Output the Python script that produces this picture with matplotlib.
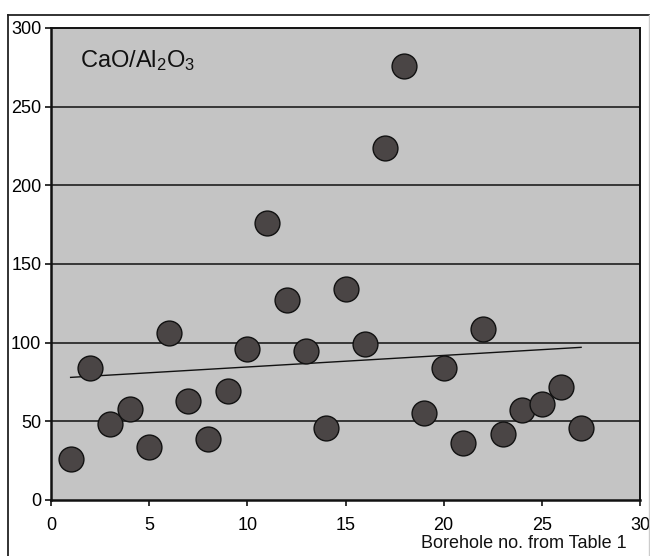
import numpy as np
import matplotlib
matplotlib.use("Agg")
import matplotlib.pyplot as plt
from matplotlib.lines import Line2D

plt.rcParams["font.family"] = ["Liberation Sans", "DejaVu Sans"]
plt.rcParams["mathtext.fontset"] = "custom"
plt.rcParams["mathtext.rm"] = "Liberation Sans"
plt.rcParams["mathtext.default"] = "rm"

# CaO/Al2O3 ratio per borehole
borehole = [1, 2, 3, 4, 5, 6, 7, 8, 9, 10, 11, 12, 13, 14, 15, 16, 17, 18,
            19, 20, 21, 22, 23, 24, 25, 26, 27]
ratio = [26, 84, 48, 58, 34, 106, 63, 39, 69, 96, 176, 127, 95, 46, 134, 99,
         224, 276, 55, 84, 36, 109, 42, 57, 61, 72, 46]

x = np.array(borehole, dtype=float)
y = np.array(ratio, dtype=float)
slope, intercept = np.polyfit(x, y, 1)
trend_x = np.array([x.min(), x.max()])
trend_y = slope * trend_x + intercept

fig = plt.figure(figsize=(6.5, 5.56), dpi=100)
ax = fig.add_axes([51 / 650, 56 / 556, 589 / 650, 472 / 556])
ax.set_facecolor("#c4c4c4")

for gy in [50, 100, 150, 200, 250]:
    ax.axhline(gy, color="#111111", lw=1.1, zorder=1)

ax.plot(trend_x, trend_y, color="#111111", lw=1.0, zorder=2)
ax.scatter(x, y, s=320, color="#4a4545", edgecolor="#111111", lw=1.0, zorder=3)

ax.set_xlim(0, 30)
ax.set_ylim(0, 300)
ax.set_xticks([0, 5, 10, 15, 20, 25, 30])
ax.set_yticks([0, 50, 100, 150, 200, 250, 300])
ax.tick_params(axis="both", direction="out", length=4, width=1.2,
               labelsize=13, color="#111111")
ax.tick_params(axis="y", pad=3)
ax.tick_params(axis="x", pad=8)

for side in ["left", "bottom"]:
    ax.spines[side].set_linewidth(1.8)
for side in ["top", "right"]:
    ax.spines[side].set_linewidth(1.4)
for sp in ax.spines.values():
    sp.set_color("#111111")

ax.text(0.05, 0.93, r"CaO/Al$_2$O$_3$", transform=ax.transAxes,
        fontsize=17, va="center", ha="left", color="#111111")

fig.text(627 / 650, 1 - 543 / 556, "Borehole no. from Table 1",
         ha="right", va="center", fontsize=13, color="#111111")

# outer frame
fig.add_artist(Line2D([8 / 650, 1.0], [1 - 15 / 556] * 2,
                      transform=fig.transFigure, color="#222222", lw=1.3))
fig.add_artist(Line2D([8 / 650] * 2, [0, 1 - 15 / 556],
                      transform=fig.transFigure, color="#222222", lw=1.3))
fig.add_artist(Line2D([649 / 650] * 2, [0, 1 - 15 / 556],
                      transform=fig.transFigure, color="#cccccc", lw=1.0))

fig.savefig("out.png", dpi=100)
